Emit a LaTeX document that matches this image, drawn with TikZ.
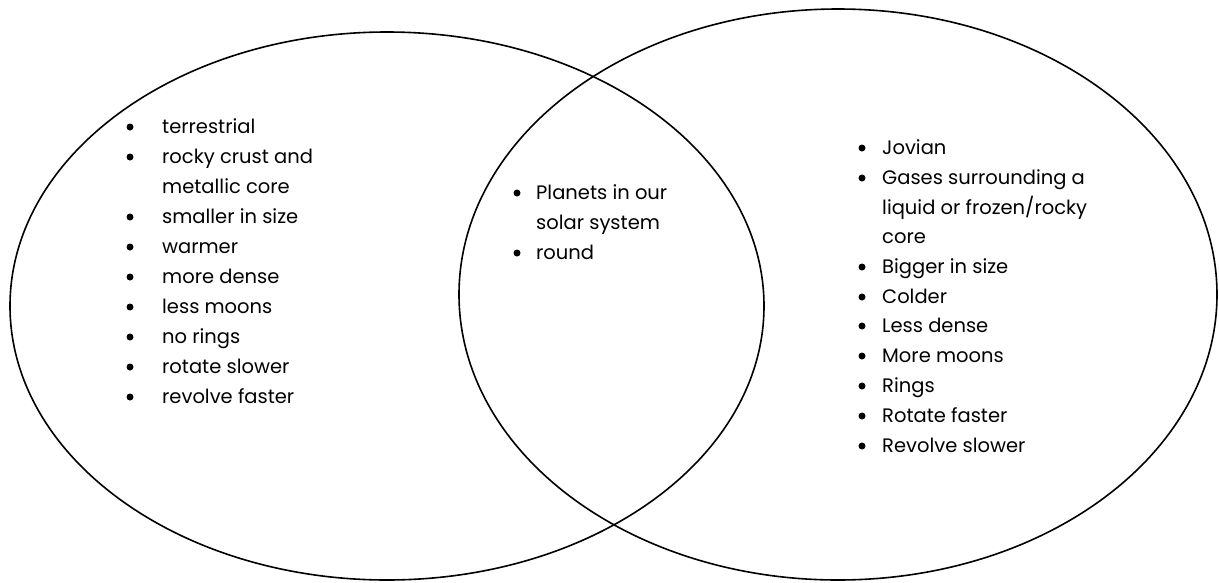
\documentclass[tikz,border=0pt]{standalone}
\usepackage{fontspec}
\setmainfont{Poppins}
\usetikzlibrary{positioning}
\tikzset{
  ring/.style={draw=black, line width=1.6pt},
  item/.style={anchor=base west, inner sep=0pt, font=\fontsize{19.5}{24}\selectfont},
  dot/.style={circle, fill=black, inner sep=0pt, minimum size=7pt},
}

\begin{document}
\begin{tikzpicture}[x=1pt, y=-1pt]
\useasboundingbox (0,0) rectangle (1219,582);
\coordinate (L) at (387,306);
\coordinate (R) at (838,294.5);
\draw[ring] (L) ellipse [x radius=377, y radius=274];
\draw[ring] (R) ellipse [x radius=379, y radius=285.5];

% terrestrial planets
\foreach \txt/\y/\b [count=\i] in {terrestrial/127/1, rocky crust and/157/1,
    metallic core/187/0, smaller in size/217/1, warmer/247/1, more dense/277/1,
    less moons/307/1, no rings/337/1, rotate slower/367/1, revolve faster/397/1}{
  \node[item] (lt\i) at (162,\y+6) {\txt};
  \ifnum\b=1 \node[dot] (lb\i) at (130,\y) {}; \fi
}

% both
\foreach \txt/\y/\b [count=\i] in {Planets in our/193/1, solar system/223/0, round/253/1}{
  \node[item] (mt\i) at (536,\y+6) {\txt};
  \ifnum\b=1 \node[dot] (mb\i) at (517,\y) {}; \fi
}

% jovian planets
\foreach \txt/\y/\b [count=\i] in {Jovian/148/1, Gases surrounding a/178/1,
    {liquid or frozen/rocky}/208/0, core/237/0, Bigger in size/267/1, Colder/297/1,
    Less dense/326/1, More moons/356/1, Rings/386/1, Rotate faster/416/1,
    Revolve slower/446/1}{
  \node[item] (rt\i) at (882,\y+6) {\txt};
  \ifnum\b=1 \node[dot] (rb\i) at (862,\y) {}; \fi
}
\end{tikzpicture}
\end{document}
